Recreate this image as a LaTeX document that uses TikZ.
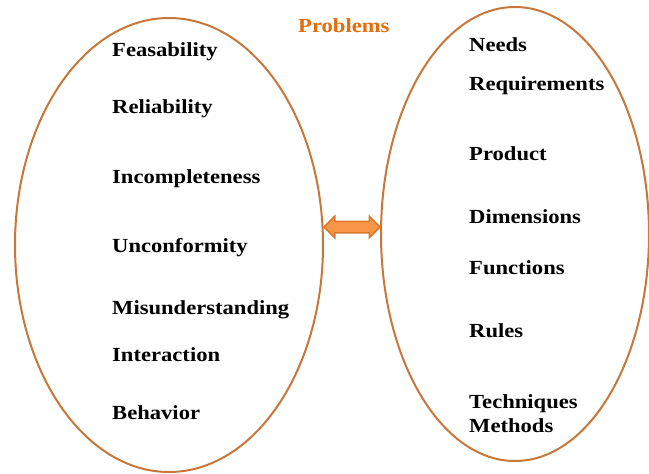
\documentclass[tikz,border=0pt]{standalone}
\usepackage{fontspec}
\setmainfont{Liberation Serif}[FakeStretch=1.13]
\usepackage{tikz}
\usetikzlibrary{calc,shapes.geometric,shapes.arrows}

\definecolor{ovalline}{HTML}{C8773A}
\definecolor{arrowfill}{HTML}{F79646}
\definecolor{arrowline}{HTML}{D9772E}
\definecolor{titleorange}{HTML}{E46C0A}

\begin{document}
\begin{tikzpicture}[x=1pt,y=-1pt,
    oval/.style={draw=ovalline, line width=2pt, ellipse, inner sep=0pt},
    item/.style={anchor=base west, inner sep=0pt, font=\fontsize{20}{24}\selectfont\bfseries}]
      \useasboundingbox (0,0) rectangle (649,474);

      % Define the columns of the two lists
      \def\LeftCol{112}
      \def\RightCol{469}

      % Draw the two ovals
      \node[oval, minimum width=308pt, minimum height=454pt] (problems) at (169,245) {};
      \node[oval, minimum width=268pt, minimum height=454pt] (needs) at (515,234) {};

      % Title
      \node[item, text=titleorange] (title) at (298,32) {Problems};

      % Left list
      \node[item] (feas) at (\LeftCol,56) {Feasability};
      \node[item] (reli) at (\LeftCol,113) {Reliability};
      \node[item] (incomp) at (\LeftCol,183) {Incompleteness};
      \node[item] (unconf) at (\LeftCol,252) {Unconformity};
      \node[item] (misund) at (\LeftCol,314) {Misunderstanding};
      \node[item] (inter) at (\LeftCol,361) {Interaction};
      \node[item] (behav) at (\LeftCol,419) {Behavior};

      % Right list
      \node[item] (need) at (\RightCol,51) {Needs};
      \node[item] (req) at (\RightCol,90) {Requirements};
      \node[item] (prod) at (\RightCol,160) {Product};
      \node[item] (dims) at (\RightCol,223) {Dimensions};
      \node[item] (func) at (\RightCol,274) {Functions};
      \node[item] (rules) at (\RightCol,337) {Rules};
      \node[item] (tech) at (\RightCol,408) {Techniques};
      \node[item] (meth) at (\RightCol,432) {Methods};

      % Double arrow between the ovals
      \coordinate (mid) at ($(problems.east)!0.5!(needs.west)$);
      \node[double arrow, draw=arrowline, fill=arrowfill, line width=1.5pt,
            minimum height=56pt, inner xsep=0pt, inner ysep=5pt,
            double arrow head extend=5pt] (link) at (mid |- 0,227) {};
\end{tikzpicture}
\end{document}
